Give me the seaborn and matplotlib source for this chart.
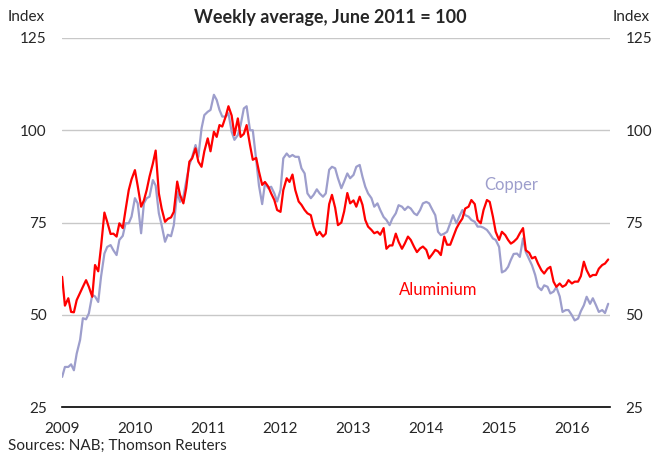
import numpy as np
import pandas as pd
import matplotlib.pyplot as plt
import matplotlib.dates as mdates
import seaborn as sns

# semi-monthly readings, Jan 2009 - Jul 2016 (index, June 2011 = 100)
dates = pd.date_range('2009-01-01', periods=181, freq='SMS')

aluminium = [
    60.3, 52.5, 54.5, 50.8, 50.7, 54.0, 56.0, 57.6, 59.4, 57.6, 54.9, 63.5,
    61.8, 68.4, 77.7, 75.2, 71.9, 72.0, 71.2, 74.8, 73.5, 78.4, 83.8, 86.7,
    89.2, 84.9, 79.3, 81.0, 83.8, 87.4, 91.0, 94.5, 82.9, 78.8, 75.2, 76.0,
    76.4, 77.9, 86.1, 82.5, 80.2, 84.3, 91.5, 92.4, 95.1, 91.5, 90.1, 94.3,
    97.8, 94.3, 99.6, 98.2, 101.4, 101.0, 103.7, 106.5, 104.0, 98.7, 103.2, 98.2,
    99.0, 101.4, 96.0, 92.0, 92.5, 88.8, 85.2, 86.0, 84.7, 82.9, 81.1, 78.4,
    77.9, 83.8, 87.0, 86.0, 88.0, 83.8, 80.7, 79.8, 78.4, 77.5, 77.0, 73.9,
    71.6, 72.5, 71.2, 72.0, 80.0, 82.5, 79.0, 74.3, 75.0, 78.0, 83.0, 80.2,
    81.0, 79.3, 82.0, 79.8, 75.7, 73.9, 73.0, 72.1, 72.5, 71.7, 73.5, 67.9,
    68.8, 68.8, 72.0, 69.8, 67.9, 69.3, 71.2, 70.3, 68.4, 67.0, 68.0, 68.5,
    67.6, 65.3, 66.5, 67.6, 67.2, 66.2, 71.2, 69.0, 69.0, 71.0, 73.4, 74.8,
    76.1, 78.8, 79.3, 81.1, 80.0, 75.7, 74.8, 78.4, 81.1, 80.6, 76.6, 72.5,
    70.3, 72.5, 71.6, 70.3, 69.3, 69.8, 70.7, 72.1, 73.5, 67.5, 66.8, 65.3,
    65.7, 63.9, 62.1, 61.2, 62.5, 63.0, 59.0, 57.6, 58.5, 57.6, 58.1, 59.4,
    58.5, 59.0, 59.0, 60.5, 64.4, 62.1, 60.3, 60.8, 60.8, 62.5, 63.5, 63.9,
    65.0,
]

copper = [
    33.2, 35.9, 35.9, 36.6, 35.0, 39.5, 43.2, 49.1, 48.8, 50.4, 55.4, 55.0,
    53.5, 60.3, 66.6, 68.4, 68.9, 67.5, 66.2, 70.3, 71.4, 74.8, 74.8, 76.6,
    81.6, 80.2, 72.1, 80.2, 81.6, 82.0, 86.5, 85.0, 77.5, 74.3, 69.8, 71.7,
    71.3, 74.3, 83.4, 80.6, 82.0, 86.1, 90.6, 92.8, 96.0, 92.8, 100.5, 104.1,
    105.0, 105.5, 109.6, 108.2, 105.5, 103.7, 103.7, 104.6, 99.6, 97.4, 98.7, 101.4,
    105.9, 106.5, 100.0, 100.0, 92.0, 85.0, 80.0, 85.6, 84.3, 84.7, 82.9, 80.7,
    83.8, 92.4, 93.7, 92.8, 93.3, 92.8, 92.8, 89.7, 88.3, 82.9, 81.6, 82.5,
    84.0, 82.9, 82.0, 82.9, 89.3, 90.1, 89.7, 87.0, 84.3, 86.1, 88.3, 87.0,
    87.9, 90.1, 90.6, 87.4, 84.7, 82.9, 81.6, 79.3, 80.2, 78.4, 76.5, 75.7,
    74.3, 76.1, 77.5, 79.7, 79.3, 78.4, 79.3, 78.8, 77.5, 77.0, 78.4, 80.2,
    80.6, 80.2, 78.4, 77.0, 72.5, 71.6, 72.0, 72.5, 74.8, 77.0, 74.8, 76.6,
    78.4, 77.0, 76.6, 75.7, 75.2, 73.9, 73.9, 73.6, 73.0, 72.0, 70.7, 70.3,
    68.4, 61.5, 62.0, 63.0, 64.9, 66.5, 66.6, 65.7, 70.7, 67.0, 65.0, 63.4,
    60.8, 57.6, 56.7, 58.0, 57.6, 55.8, 56.3, 57.5, 55.0, 50.8, 51.3, 51.3,
    49.9, 48.5, 49.0, 51.0, 52.6, 54.9, 53.0, 54.5, 52.6, 50.8, 51.3, 50.5,
    53.0,
]

years = [2009, 2010, 2011, 2012, 2013, 2014, 2015, 2016]
y_ticks = [25, 50, 75, 100, 125]

df = pd.DataFrame({'date': dates, 'Copper': copper, 'Aluminium': aluminium})
long_df = df.melt(id_vars='date', var_name='metal', value_name='index')

colors = {'Copper': '#9d9ecc', 'Aluminium': '#ff0000'}

sns.set_style('white')
plt.rcParams['font.family'] = ['Lato', 'DejaVu Sans']

fig = plt.figure(figsize=(6.54, 4.57), dpi=100)
ax = fig.add_axes([0.095, 0.109, 0.838, 0.808])

sns.lineplot(data=long_df, x='date', y='index', hue='metal', hue_order=['Copper', 'Aluminium'],
             palette=colors, linewidth=1.6, legend=False, ax=ax)

ax.set_ylim(25, 125)
ax.set_xlim(dates[0], dates[-1] + pd.Timedelta(days=10))
ax.set_yticks(y_ticks)
ax.set_xticks([pd.Timestamp(f'{y}-01-01') for y in years])
ax.xaxis.set_major_formatter(mdates.DateFormatter('%Y'))
ax.set_xlabel('')
ax.set_ylabel('')

for v in y_ticks[1:]:
    ax.axhline(v, color='#c8c8c8', lw=1, zorder=0)

for s in ['top', 'left', 'right']:
    ax.spines[s].set_visible(False)
ax.spines['bottom'].set_color('black')
ax.spines['bottom'].set_linewidth(1.2)

ax.tick_params(axis='x', direction='in', length=4, width=1, color='black',
               labelsize=11, pad=11)
ax.tick_params(axis='y', length=0, labelsize=11, labelleft=True, labelright=True, pad=11)

ax.text(pd.Timestamp('2015-03-01'), 85.2, 'Copper', color=colors['Copper'],
        fontsize=12, ha='center', va='center')
ax.text(pd.Timestamp('2014-03-01'), 56.7, 'Aluminium', color=colors['Aluminium'],
        fontsize=12, ha='center', va='center')

fig.text(0.505, 0.962, 'Weekly average, June 2011 = 100', fontsize=13, fontweight='bold',
         ha='center', va='center')
fig.text(0.012, 0.962, 'Index', fontsize=11, ha='left', va='center')
fig.text(0.993, 0.962, 'Index', fontsize=11, ha='right', va='center')
fig.text(0.012, 0.024, 'Sources: NAB; Thomson Reuters', fontsize=11, ha='left', va='center')

fig.savefig('out.png', dpi=100)
